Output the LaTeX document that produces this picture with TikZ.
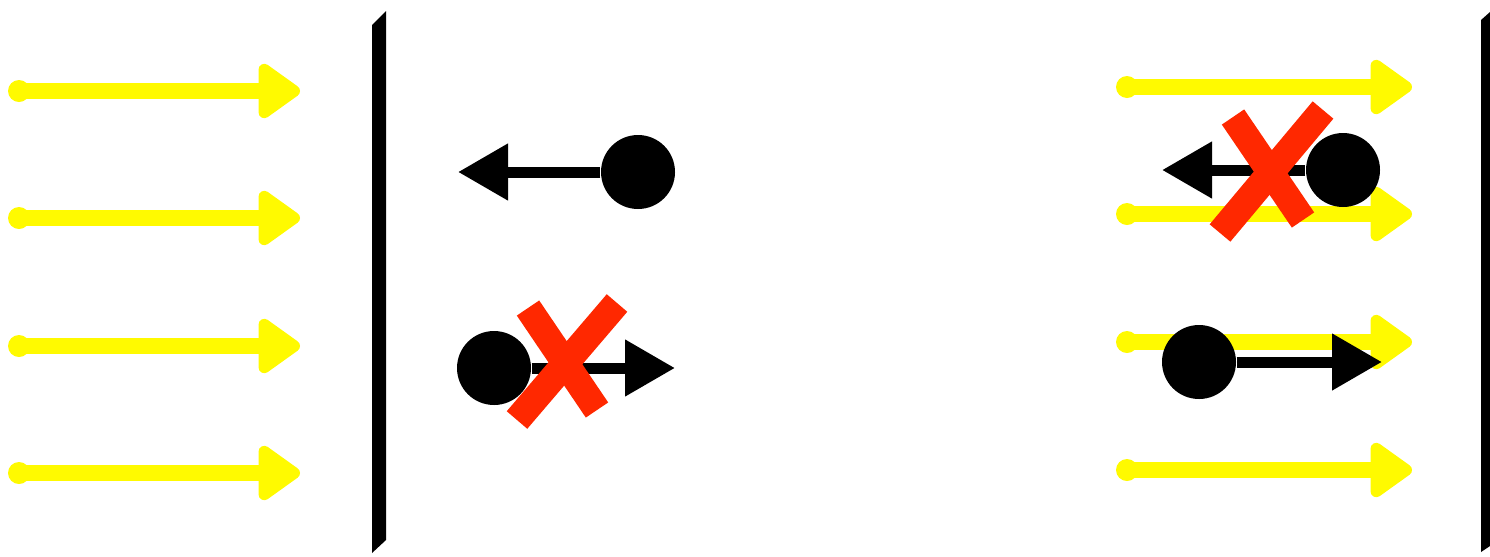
\documentclass[tikz,border=0pt]{standalone}
\usepackage{tikz}
\usetikzlibrary{arrows.meta}
\definecolor{lightyellow}{RGB}{255,250,0}
\definecolor{crossred}{RGB}{255,40,0}
\tikzset{
  light/.style={lightyellow,line width=1.6mm,line cap=round,-{Triangle[length=4.6mm,width=6.2mm,round]}},
  particle/.style={circle,fill=black,minimum size=7.4mm,inner sep=0pt},
  push/.style={black,line width=1.1mm,-{Triangle[length=5mm,width=5.4mm]}},
  cross/.style={crossred,line width=2.7mm}
}

\begin{document}
\begin{tikzpicture}
  \useasboundingbox (0,0) rectangle (14.9,5.56);
  % Left side: incoming light and the plate
  \begin{scope}
    \foreach \y in {4.65,3.38,2.10,0.83}{
      \fill[lightyellow] (0.19,\y) circle (1.1mm);
      \draw[light] (0.19,\y) -- (3.00,\y);
    }
    \fill (3.72,0.03)--(3.86,0.16)--(3.86,5.45)--(3.72,5.31)--cycle;
    \node[particle] (pa) at (6.38,3.84) {};
    \coordinate (ta) at (4.58,3.84);
    \draw[push] (pa.west) -- (ta);
    \node[particle] (pb) at (4.94,1.88) {};
    \coordinate (tb) at (6.75,1.88);
    \draw[push] (pb.east) -- (tb);
    \draw[cross] (5.28,2.48) -- (5.97,1.46);
    \draw[cross] (6.17,2.53) -- (5.17,1.36);
  \end{scope}
  % Right side: light passing by, second plate
  \begin{scope}
    \foreach \y in {4.69,3.42,2.14,0.86}{
      \fill[lightyellow] (11.27,\y) circle (1.1mm);
      \draw[light] (11.27,\y) -- (14.12,\y);
    }
    \fill (14.81,0.04)--(14.9,0.1)--(14.9,5.44)--(14.81,5.36)--cycle;
    \node[particle] (pc) at (13.43,3.86) {};
    \coordinate (tc) at (11.62,3.86);
    \draw[push] (pc.west) -- (tc);
    \node[particle] (pd) at (11.99,1.94) {};
    \coordinate (td) at (13.82,1.94);
    \draw[push] (pd.east) -- (td);
    \draw[cross] (12.33,4.39) -- (13.03,3.36);
    \draw[cross] (13.23,4.46) -- (12.20,3.23);
  \end{scope}
\end{tikzpicture}
\end{document}
